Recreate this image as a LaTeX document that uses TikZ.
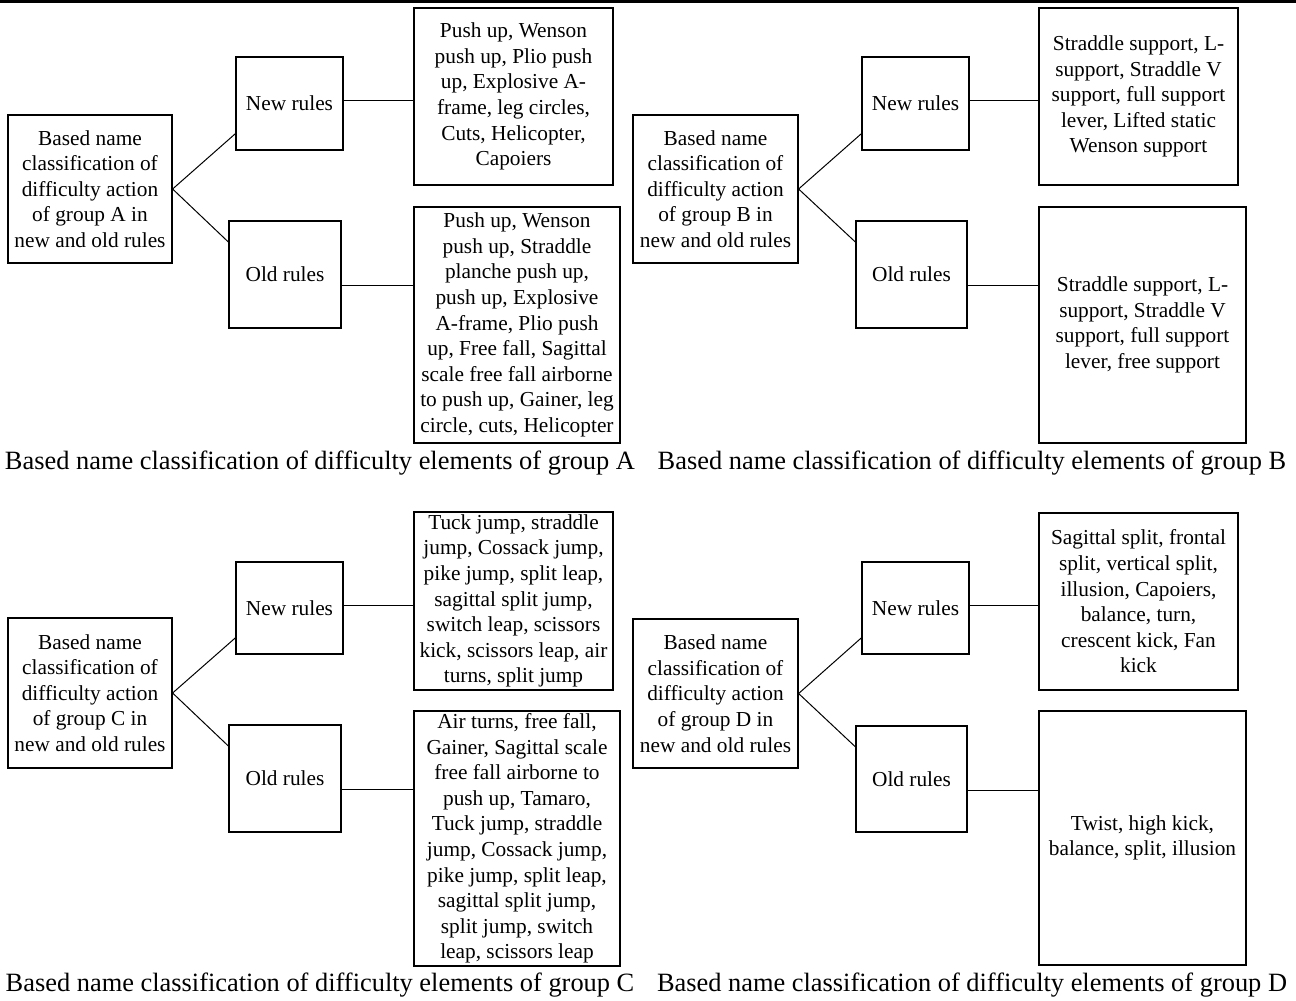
\documentclass[tikz,border=0pt]{standalone}
\usepackage{fontspec}
\setmainfont{Liberation Serif}
\usetikzlibrary{calc}
\newcommand{\bx}[6]{\node[bx, minimum width={(#4-#2)*0.75pt}, minimum height={(#5-#3)*0.75pt}] (#1) at ({(#2+#4)/2},{(#3+#5)/2}) {#6};}
\newcommand{\links}[5]{%
  \draw[link] (#1.east) -- ($(#2.south west)!0.18!(#2.north west)$);
  \draw[link] (#1.east) -- ($(#3.north west)!0.2!(#3.south west)$);
  \coordinate (#1-a) at ($(#2.east)+(0,-3)$);
  \coordinate (#1-b) at ($(#3.east)+(0,11)$);
  \draw[link] (#1-a) -- (#1-a -| #4.west);
  \draw[link] (#1-b) -- (#1-b -| #5.west);
}
\begin{document}
\begin{tikzpicture}[x=0.75pt,y=-0.75pt,
  bx/.style={draw, line width=0.9pt, inner sep=0pt, align=center, font=\fontsize{16}{19.2}\selectfont},
  captext/.style={font=\fontsize{19.8}{24}\selectfont, inner sep=0pt},
  link/.style={line width=0.75pt}]
\useasboundingbox (0,0) rectangle (1296,1000);
\draw[line width=2.3pt] (0,1.5) -- (1296,1.5);
% Panel A
\bx{rA}{8}{115}{172}{263}{Based name\\classification of\\difficulty action\\of group A in\\new and old rules}
\bx{nA}{236}{57}{343}{150}{New rules}
\bx{oA}{229}{221}{341}{328}{Old rules}
\bx{ncA}{414}{8}{613}{185}{Push up, Wenson\\push up, Plio push\\up, Explosive A-\\frame, leg circles,\\Cuts, Helicopter,\\Capoiers}
\bx{ocA}{414}{207}{620}{443}{Push up, Wenson\\push up, Straddle\\planche push up,\\push up, Explosive\\A-frame, Plio push\\up, Free fall, Sagittal\\scale free fall airborne\\to push up, Gainer, leg\\circle, cuts, Helicopter}
\links{rA}{nA}{oA}{ncA}{ocA}
\node[captext] (capA) at (320,463) {Based name classification of difficulty elements of group A};
% Panel B
\bx{rB}{633}{115}{798}{263}{Based name\\classification of\\difficulty action\\of group B in\\new and old rules}
\bx{nB}{862}{57}{969}{150}{New rules}
\bx{oB}{856}{221}{967}{328}{Old rules}
\bx{ncB}{1039}{8}{1238}{185}{Straddle support, L-\\support, Straddle V\\support, full support\\lever, Lifted static\\Wenson support}
\bx{ocB}{1039}{207}{1246}{443}{Straddle support, L-\\support, Straddle V\\support, full support\\lever, free support}
\links{rB}{nB}{oB}{ncB}{ocB}
\node[captext] (capB) at (972,463) {Based name classification of difficulty elements of group B};
% Panel C
\bx{rC}{8}{618}{172}{768}{Based name\\classification of\\difficulty action\\of group C in\\new and old rules}
\bx{nC}{236}{562}{343}{654}{New rules}
\bx{oC}{229}{725}{341}{832}{Old rules}
\bx{ncC}{414}{512}{613}{690}{Tuck jump, straddle\\jump, Cossack jump,\\pike jump, split leap,\\sagittal split jump,\\switch leap, scissors\\kick, scissors leap, air\\turns, split jump}
\bx{ocC}{414}{711}{620}{966}{Air turns, free fall,\\Gainer, Sagittal scale\\free fall airborne to\\push up, Tamaro,\\Tuck jump, straddle\\jump, Cossack jump,\\pike jump, split leap,\\sagittal split jump,\\split jump, switch\\leap, scissors leap}
\links{rC}{nC}{oC}{ncC}{ocC}
\node[captext] (capC) at (320,985) {Based name classification of difficulty elements of group C};
% Panel D
\bx{rD}{633}{619}{798}{768}{Based name\\classification of\\difficulty action\\of group D in\\new and old rules}
\bx{nD}{862}{562}{969}{654}{New rules}
\bx{oD}{856}{726}{967}{832}{Old rules}
\bx{ncD}{1039}{513}{1238}{690}{Sagittal split, frontal\\split, vertical split,\\illusion, Capoiers,\\balance, turn,\\crescent kick, Fan\\kick}
\bx{ocD}{1039}{711}{1246}{965}{Twist, high kick,\\balance, split, illusion}
\links{rD}{nD}{oD}{ncD}{ocD}
\node[captext] (capD) at (972,985) {Based name classification of difficulty elements of group D};
\end{tikzpicture}
\end{document}
